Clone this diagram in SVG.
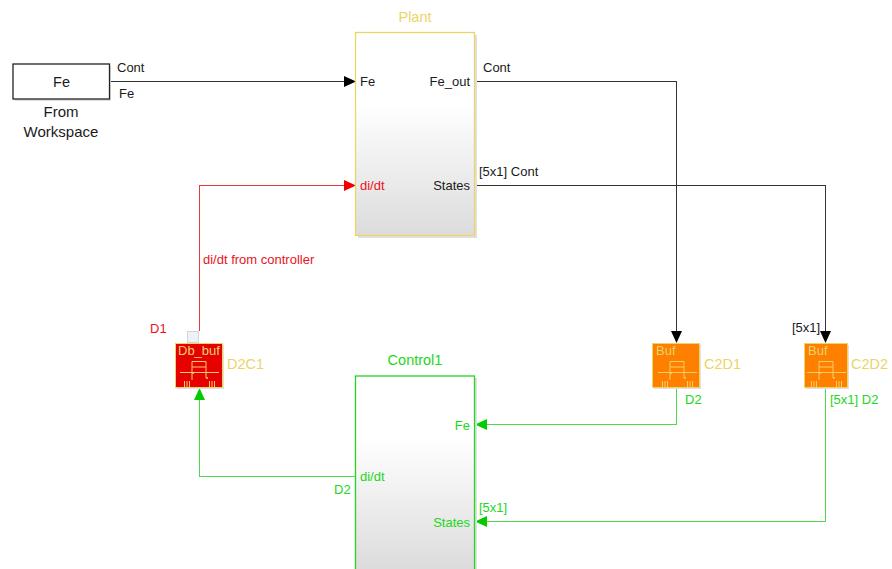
<svg xmlns="http://www.w3.org/2000/svg" width="892" height="569" viewBox="0 0 892 569">
<style>
text{font-family:"Liberation Sans",Arial,sans-serif;font-size:13px}
.k{fill:#1a1a1a}.r{fill:#e8141c}.g{fill:#22d622}.y{fill:#ecd468}
.big{font-size:14.500px}
.wide{font-size:15px}
.cn{fill:none;stroke-width:1;shape-rendering:crispEdges}
.sk{stroke:#333}.sr{stroke:#e83a3a}.sg{stroke:#4fd94f}
.ic{fill:none;stroke:#f3cf68;stroke-width:1}
.sub{stroke-width:1.300}
.sh{fill:#e0e0e0}
</style>
<defs>
<linearGradient id="gr" x1="0" y1="0" x2="0" y2="1"><stop offset="0.35" stop-color="#fff"/><stop offset="1" stop-color="#dcdcdc"/></linearGradient>
<linearGradient id="gc" gradientUnits="userSpaceOnUse" x1="0" y1="376" x2="0" y2="569"><stop offset="0.32" stop-color="#fff"/><stop offset="1" stop-color="#dcdcdc"/></linearGradient>
<g id="sw">
<path class="ic" d="M-19 .5H20M-7 8V-10.500H7V6M-7 -5H7"/>
<path class="ic" d="M-14.500 9V15M-12 9V15M-9.500 9V15M10.500 9V15M13 9V15M15.500 9V15"/>
<circle cx="-6" cy="1" r="1" fill="#f3cf68"/>
<circle cx="8" cy="6" r="1" fill="#f3cf68"/>
</g>
</defs>
<g id="connectors">
<path class="cn sk" d="M110 81.500H346"/>
<path d="M344 76L356 81.500L344 87Z" fill="#000"/>
<path class="cn sk" d="M475 81.500H676.500V332"/>
<path d="M671 331H682L676.500 343Z" fill="#000"/>
<path class="cn sk" d="M475 185.500H825.500V332"/>
<path d="M820 331H831L825.500 343Z" fill="#000"/>
<path class="cn sr" d="M199.500 331V185.500H346"/>
<path d="M344 180L356 185.500L344 191Z" fill="#f00000"/>
<path class="cn sg" d="M676.500 388V424.500H486"/>
<path d="M487 419L475 424.500L487 430Z" fill="#00cc00"/>
<path class="cn sg" d="M825.500 388V521.500H486"/>
<path d="M487 516L475 521.500L487 527Z" fill="#00cc00"/>
<path class="cn sg" d="M355 476.500H199.500V399"/>
<path d="M194 400H205L199.500 388Z" fill="#00cc00"/>
</g>
<g id="from-workspace">
<rect x="15" y="66" width="96" height="35" class="sh"/>
<rect x="13" y="64" width="96.500" height="35" fill="#fff" stroke="#222" stroke-width="1.300"/>
<text class="k big" x="61.500" y="87" text-anchor="middle">Fe</text>
<text class="k wide" x="61" y="117" text-anchor="middle">From</text>
<text class="k wide" x="61" y="137" text-anchor="middle">Workspace</text>
</g>
<g id="plant">
<rect x="358" y="35" width="119" height="203" class="sh"/>
<rect x="355.500" y="32.500" width="119" height="203" fill="url(#gr)" stroke="#ecd468" class="sub"/>
<text class="y big" x="415" y="22" text-anchor="middle">Plant</text>
<text class="k" x="360" y="86">Fe</text>
<text class="k" x="470" y="86" text-anchor="end">Fe_out</text>
<text class="r" x="360" y="190">di/dt</text>
<text class="k" x="470" y="190" text-anchor="end">States</text>
</g>
<g id="control1">
<rect x="358" y="378" width="119" height="200" class="sh"/>
<rect x="355.500" y="376" width="119" height="200" fill="url(#gc)" stroke="#22d622" class="sub"/>
<text class="g big" x="415" y="365" text-anchor="middle">Control1</text>
<text class="g" x="470" y="430" text-anchor="end">Fe</text>
<text class="g" x="360" y="481">di/dt</text>
<text class="g" x="470" y="527" text-anchor="end">States</text>
</g>
<g id="d2c1">
<rect x="187.500" y="331.500" width="11" height="11" fill="#eef2f8" stroke="#d0d4dc"/>
<rect x="177" y="345" width="47" height="44" class="sh"/>
<rect x="175.500" y="343.500" width="47" height="44" fill="#e60000" stroke="#ecd468"/>
<text class="y" x="178" y="355">Db_buf</text>
<use href="#sw" x="199" y="372"/>
<text class="y big" x="227" y="369">D2C1</text>
</g>
<g id="c2d1">
<rect x="654" y="345" width="47" height="44" class="sh"/>
<rect x="652.500" y="343.500" width="47" height="44" fill="#ff8000" stroke="#ecd468"/>
<text class="y" x="656" y="355">Buf</text>
<use href="#sw" x="677" y="372"/>
<text class="y big" x="704" y="369">C2D1</text>
</g>
<g id="c2d2">
<rect x="806" y="345" width="43" height="44" class="sh"/>
<rect x="804.500" y="343.500" width="43" height="44" fill="#ff8000" stroke="#ecd468"/>
<text class="y" x="808" y="355">Buf</text>
<use href="#sw" x="826" y="372"/>
<text class="y big" x="851" y="369">C2D2</text>
</g>
<g id="labels">
<text class="k" x="117" y="72">Cont</text>
<text class="k" x="119" y="98">Fe</text>
<text class="k" x="483" y="72">Cont</text>
<text class="k" x="479" y="176">[5x1] Cont</text>
<text class="r" x="203" y="264">di/dt from controller</text>
<text class="r" x="150" y="333">D1</text>
<text class="k" x="792" y="332">[5x1]</text>
<text class="g" x="685" y="404">D2</text>
<text class="g" x="830" y="404">[5x1] D2</text>
<text class="g" x="334" y="494">D2</text>
<text class="g" x="479" y="512">[5x1]</text>
</g>
</svg>
